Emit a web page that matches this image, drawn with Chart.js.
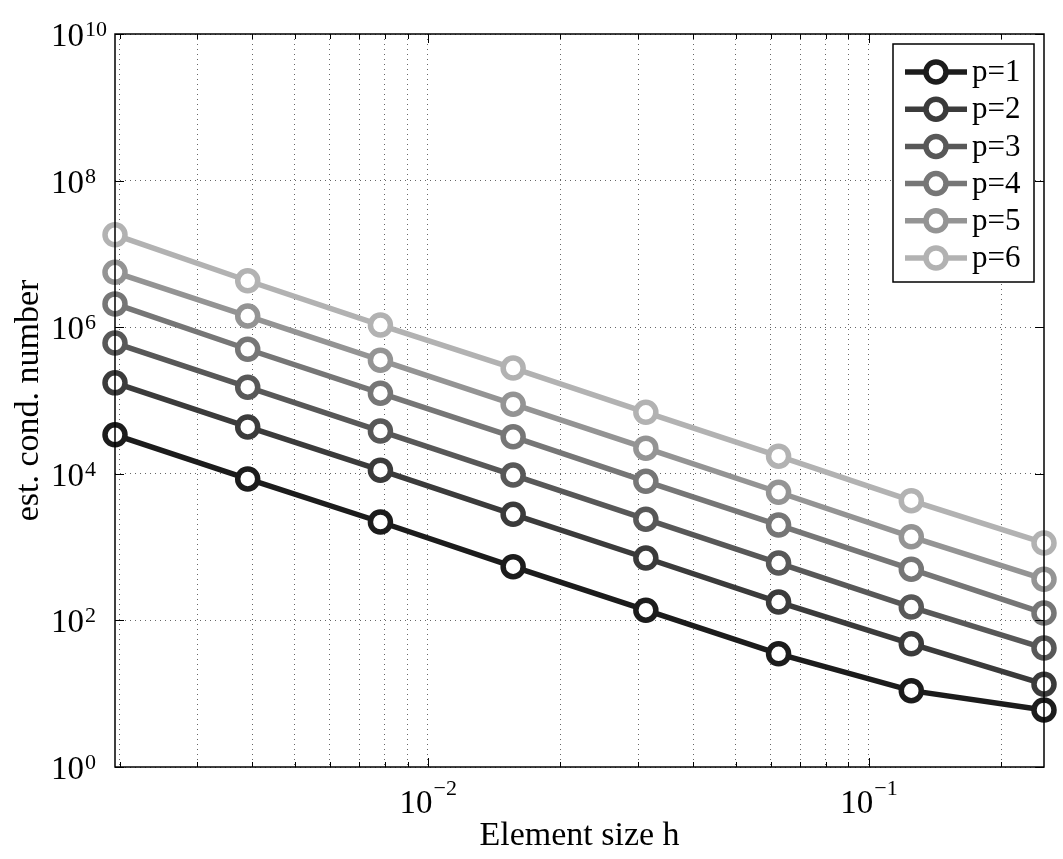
<!DOCTYPE html>
<html>
<head>
<meta charset="utf-8">
<script src="https://cdn.jsdelivr.net/npm/chart.js@4"></script>
<style>
  html, body { margin: 0; padding: 0; background: #fff; }
</style>
</head>
<body>
<canvas id="condChart" width="1063" height="859"></canvas>
<script>
// element sizes h (1/512 ... 1/4)
const hValues = [0.001953125, 0.00390625, 0.0078125, 0.015625, 0.03125, 0.0625, 0.125, 0.25];

const seriesNames = ['p=1', 'p=2', 'p=3', 'p=4', 'p=5', 'p=6'];

// estimated condition numbers
const condP1 = [34000, 8500, 2200, 540, 138, 35, 11, 6];
const condP2 = [174000, 43600, 11200, 2800, 710, 178, 48, 13.5];
const condP3 = [608000, 152000, 38300, 9600, 2400, 605, 152, 42];
const condP4 = [2080000, 500000, 126000, 32000, 7900, 2000, 500, 126];
const condP5 = [5600000, 1420000, 355000, 89000, 22400, 5600, 1380, 365];
const condP6 = [18200000, 4300000, 1070000, 277000, 69000, 17400, 4300, 1140];

const seriesColors = ['#1c1c1c', '#3b3b3b', '#585858', '#767676', '#949494', '#b2b2b2'];

// tick values
const xLabelTicks = [0.01, 0.1];
const xGridTicks = [0.002, 0.003, 0.004, 0.005, 0.006, 0.007, 0.008, 0.009,
                    0.01, 0.02, 0.03, 0.04, 0.05, 0.06, 0.07, 0.08, 0.09, 0.1, 0.2];
const yLabelTicks = [1, 1e2, 1e4, 1e6, 1e8, 1e10];

const FONT = "'Liberation Serif', 'Times New Roman', serif";

const allSeries = [condP1, condP2, condP3, condP4, condP5, condP6];
const datasets = allSeries.map((vals, i) => ({
  label: seriesNames[i],
  data: hValues.map((h, j) => ({ x: h, y: vals[j] })),
  borderColor: seriesColors[i],
  backgroundColor: '#ffffff',
  pointBackgroundColor: '#ffffff',
  pointBorderColor: seriesColors[i],
  borderWidth: 5.5,
  pointRadius: 10,
  pointBorderWidth: 5.5,
  pointHoverRadius: 10,
  tension: 0,
  clip: false
}));

// superscript tick labels, inward tick marks, full box
const axesDecor = {
  id: 'axesDecor',
  afterDatasetsDraw(chart) {
    const ctx = chart.ctx;
    const a = chart.chartArea;
    const xs = chart.scales.x, ys = chart.scales.y;
    ctx.save();
    ctx.strokeStyle = '#000';
    ctx.lineWidth = 1.5;
    ctx.strokeRect(a.left, a.top, a.right - a.left, a.bottom - a.top);

    ctx.lineWidth = 1;
    ctx.beginPath();
    xGridTicks.forEach(v => {
      const px = Math.round(xs.getPixelForValue(v)) + 0.5;
      const len = xLabelTicks.includes(v) ? 9 : 5;
      ctx.moveTo(px, a.bottom); ctx.lineTo(px, a.bottom - len);
      ctx.moveTo(px, a.top); ctx.lineTo(px, a.top + len);
    });
    yLabelTicks.forEach(v => {
      const py = Math.round(ys.getPixelForValue(v)) + 0.5;
      ctx.moveTo(a.left, py); ctx.lineTo(a.left + 9, py);
      ctx.moveTo(a.right, py); ctx.lineTo(a.right - 9, py);
    });
    ctx.stroke();

    ctx.fillStyle = '#000';
    ctx.textBaseline = 'alphabetic';
    ctx.textAlign = 'left';
    const baseFont = '33px ' + FONT, expFont = '22px ' + FONT;

    xLabelTicks.forEach(v => {
      const e = Math.round(Math.log10(v));
      const es = (e < 0 ? '\u2212' : '') + Math.abs(e);
      ctx.font = baseFont; const wb = ctx.measureText('10').width;
      ctx.font = expFont; const we = ctx.measureText(es).width;
      const px = xs.getPixelForValue(v);
      const x0 = px - (wb + we) / 2;
      ctx.font = baseFont; ctx.fillText('10', x0, a.bottom + 46);
      ctx.font = expFont; ctx.fillText(es, x0 + wb + 1, a.bottom + 28);
    });

    yLabelTicks.forEach(v => {
      const e = Math.round(Math.log10(v));
      const py = ys.getPixelForValue(v);
      ctx.font = baseFont; const wb = ctx.measureText('10').width;
      ctx.fillText('10', 51, py + 12);
      ctx.font = expFont; ctx.fillText(String(e), 51 + wb + 1, py + 2);
    });

    // axis titles
    ctx.font = '34px ' + FONT;
    ctx.textAlign = 'center';
    ctx.fillText('Element size h', (a.left + a.right) / 2, a.bottom + 78);
    ctx.translate(38, (a.top + a.bottom) / 2);
    ctx.rotate(-Math.PI / 2);
    ctx.fillText('est. cond. number', 0, 0);
    ctx.restore();
  }
};

// legend box with line + marker samples
const lineLegend = {
  id: 'lineLegend',
  afterDraw(chart) {
    const ctx = chart.ctx;
    const box = { left: 893, top: 44, right: 1034, bottom: 282 };
    ctx.save();
    ctx.fillStyle = '#fff';
    ctx.fillRect(box.left, box.top, box.right - box.left, box.bottom - box.top);
    ctx.strokeStyle = '#000';
    ctx.lineWidth = 1.5;
    ctx.strokeRect(box.left, box.top, box.right - box.left, box.bottom - box.top);
    chart.data.datasets.forEach((ds, i) => {
      const cy = 72 + i * 37.2;
      ctx.strokeStyle = ds.borderColor;
      ctx.lineWidth = 5.5;
      ctx.beginPath(); ctx.moveTo(905, cy); ctx.lineTo(967, cy); ctx.stroke();
      ctx.beginPath(); ctx.arc(936, cy, 10, 0, Math.PI * 2);
      ctx.fillStyle = '#fff'; ctx.fill(); ctx.stroke();
      ctx.fillStyle = '#000';
      ctx.font = '31px ' + FONT;
      ctx.textBaseline = 'middle';
      ctx.fillText(ds.label, 972, cy + 1);
    });
    ctx.restore();
  }
};

const config = {
  type: 'line',
  data: { datasets: datasets },
  options: {
    responsive: false,
    animation: false,
    events: [],
    layout: { autoPadding: false, padding: { left: 115, right: 19, top: 34, bottom: 92 } },
    plugins: { legend: { display: false }, tooltip: { enabled: false } },
    scales: {
      x: {
        type: 'logarithmic',
        min: 0.001953125,
        max: 0.25,
        afterBuildTicks: s => { s.ticks = xGridTicks.map(v => ({ value: v })); },
        ticks: { display: false },
        grid: { color: 'rgba(0,0,0,0.6)', lineWidth: 1, drawTicks: false },
        border: { display: false, dash: [1, 4] }
      },
      y: {
        type: 'logarithmic',
        min: 1,
        max: 1e10,
        afterBuildTicks: s => { s.ticks = yLabelTicks.map(v => ({ value: v })); },
        ticks: { display: false },
        grid: { color: 'rgba(0,0,0,0.6)', lineWidth: 1, drawTicks: false },
        border: { display: false, dash: [1, 4] }
      }
    }
  },
  plugins: [axesDecor, lineLegend]
};

window.onload = function() {
  const ctx = document.getElementById('condChart').getContext('2d');
  window.condChart = new Chart(ctx, config);
};
</script>
</body>
</html>
